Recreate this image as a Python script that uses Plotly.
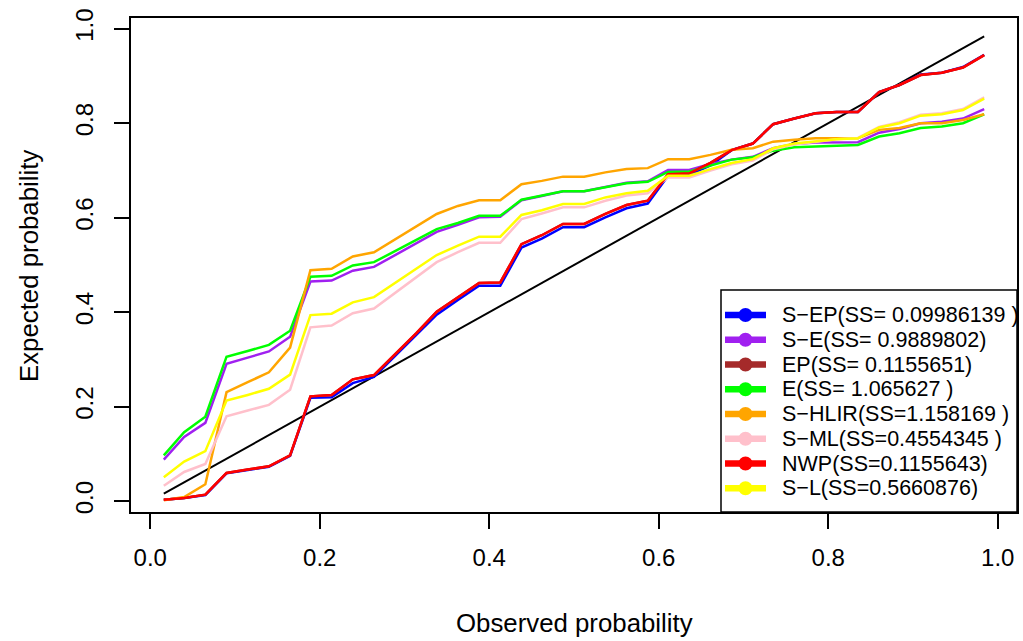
import plotly.graph_objects as go

# ---------------- data ----------------
observed = [0.016, 0.040, 0.065, 0.090, 0.115, 0.140, 0.165, 0.189, 0.214, 0.239,
            0.264, 0.289, 0.314, 0.338, 0.363, 0.388, 0.413, 0.438, 0.462, 0.487,
            0.512, 0.537, 0.562, 0.587, 0.611, 0.636, 0.661, 0.686, 0.711, 0.735,
            0.760, 0.785, 0.810, 0.835, 0.860, 0.884, 0.909, 0.934, 0.959, 0.984]

s_ep = [0.003, 0.007, 0.013, 0.059, 0.066, 0.073, 0.096, 0.219, 0.220, 0.250,
        0.263, 0.307, 0.351, 0.395, 0.426, 0.456, 0.456, 0.537, 0.556, 0.580,
        0.580, 0.601, 0.620, 0.630, 0.689, 0.691, 0.711, 0.743, 0.757, 0.798,
        0.810, 0.821, 0.824, 0.824, 0.866, 0.881, 0.903, 0.907, 0.919, 0.945]

s_e = [0.088, 0.136, 0.166, 0.291, 0.304, 0.317, 0.348, 0.465, 0.467, 0.488,
       0.496, 0.521, 0.545, 0.570, 0.585, 0.601, 0.602, 0.637, 0.646, 0.656,
       0.656, 0.665, 0.674, 0.677, 0.701, 0.701, 0.714, 0.723, 0.729, 0.747,
       0.756, 0.759, 0.760, 0.760, 0.780, 0.788, 0.800, 0.803, 0.810, 0.830]

ep = [0.003, 0.007, 0.014, 0.060, 0.067, 0.074, 0.097, 0.222, 0.225, 0.258,
      0.267, 0.311, 0.356, 0.401, 0.432, 0.462, 0.463, 0.544, 0.563, 0.587,
      0.587, 0.608, 0.627, 0.636, 0.692, 0.694, 0.716, 0.743, 0.757, 0.798,
      0.810, 0.821, 0.824, 0.824, 0.866, 0.881, 0.902, 0.907, 0.918, 0.944]

e = [0.097, 0.146, 0.179, 0.306, 0.318, 0.331, 0.361, 0.475, 0.477, 0.499,
     0.506, 0.529, 0.553, 0.576, 0.589, 0.604, 0.604, 0.638, 0.647, 0.656,
     0.656, 0.664, 0.673, 0.676, 0.697, 0.698, 0.711, 0.723, 0.728, 0.742,
     0.749, 0.751, 0.753, 0.754, 0.772, 0.779, 0.790, 0.793, 0.800, 0.819]

s_hlir = [0.002, 0.009, 0.036, 0.231, 0.252, 0.273, 0.325, 0.489, 0.492, 0.518,
          0.527, 0.554, 0.581, 0.608, 0.625, 0.637, 0.637, 0.671, 0.678, 0.687,
          0.687, 0.696, 0.703, 0.705, 0.724, 0.724, 0.733, 0.744, 0.747, 0.761,
          0.765, 0.768, 0.768, 0.768, 0.786, 0.790, 0.800, 0.800, 0.807, 0.819]

s_ml = [0.033, 0.062, 0.079, 0.180, 0.192, 0.204, 0.236, 0.368, 0.372, 0.398,
        0.408, 0.441, 0.473, 0.506, 0.527, 0.547, 0.547, 0.597, 0.609, 0.622,
        0.622, 0.636, 0.647, 0.652, 0.685, 0.685, 0.700, 0.713, 0.721, 0.745,
        0.755, 0.760, 0.766, 0.769, 0.792, 0.802, 0.818, 0.821, 0.830, 0.855]

nwp = [0.003, 0.007, 0.014, 0.060, 0.067, 0.074, 0.097, 0.222, 0.225, 0.258,
       0.267, 0.311, 0.356, 0.401, 0.432, 0.462, 0.463, 0.544, 0.563, 0.587,
       0.587, 0.608, 0.627, 0.636, 0.692, 0.694, 0.716, 0.743, 0.757, 0.798,
       0.810, 0.821, 0.824, 0.824, 0.866, 0.881, 0.902, 0.907, 0.918, 0.944]

s_l = [0.051, 0.084, 0.106, 0.213, 0.225, 0.238, 0.268, 0.394, 0.397, 0.421,
       0.432, 0.462, 0.492, 0.521, 0.541, 0.560, 0.560, 0.606, 0.616, 0.629,
       0.629, 0.643, 0.652, 0.657, 0.689, 0.689, 0.703, 0.716, 0.724, 0.747,
       0.757, 0.762, 0.766, 0.768, 0.791, 0.800, 0.816, 0.819, 0.828, 0.852]

series_names = ["S−EP(SS= 0.09986139 )", "S−E(SS= 0.9889802)", "EP(SS= 0.1155651)",
                "E(SS= 1.065627 )", "S−HLIR(SS=1.158169 )", "S−ML(SS=0.4554345 )",
                "NWP(SS=0.1155643)", "S−L(SS=0.5660876)"]
series_values = [s_ep, s_e, ep, e, s_hlir, s_ml, nwp, s_l]
series_colors = ["#0000FF", "#A020F0", "#A52A2A", "#00FF00", "#FFA500", "#FFC0CB", "#FF0000", "#FFFF00"]

tick_vals = [0.0, 0.2, 0.4, 0.6, 0.8, 1.0]
tick_text = ["0.0", "0.2", "0.4", "0.6", "0.8", "1.0"]

# ---------------- figure ----------------
FONT = "Liberation Sans, Arial, Helvetica, sans-serif"
W, H = 1023, 641
ML, MR, MT, MB = 131, 6, 18, 129
PW, PH = W - ML - MR, H - MT - MB

def px(x):
    return (x - ML) / PW

def py(y):
    return (H - MB - y) / PH

fig = go.Figure()

# reference diagonal
fig.add_trace(go.Scatter(x=observed, y=observed, mode="lines",
                         line=dict(color="black", width=2), showlegend=False,
                         hoverinfo="skip"))

for name, vals, col in zip(series_names, series_values, series_colors):
    fig.add_trace(go.Scatter(x=observed, y=vals, mode="lines", name=name,
                             line=dict(color=col, width=2.5), showlegend=False))

lo, hi = min(observed), max(observed)
span = hi - lo
rng = [lo - 0.04 * span, hi + 0.04 * span]

axis_common = dict(
    range=rng, tickvals=tick_vals, ticktext=tick_text,
    showgrid=False, zeroline=False,
    showline=True, mirror=True, linecolor="black", linewidth=1.5,
    ticks="outside", ticklen=15, tickwidth=1.5, tickcolor="black",
    tickfont=dict(family=FONT, size=24, color="black"),
)

fig.update_layout(
    width=W, height=H,
    margin=dict(l=ML, r=MR, t=MT, b=MB, autoexpand=False),
    paper_bgcolor="white", plot_bgcolor="white",
    showlegend=False,
    xaxis=dict(**axis_common, ticklabelstandoff=8),
    yaxis=dict(**axis_common, tickangle=-90, ticklabelstandoff=12),
)

shapes = []
annotations = []

# axis titles
annotations.append(dict(text="Observed probability", x=px(574), y=py(623),
                        xref="paper", yref="paper", showarrow=False,
                        xanchor="center", yanchor="middle",
                        font=dict(family=FONT, size=25.8, color="black")))
annotations.append(dict(text="Expected probability", x=px(29), y=py(266),
                        xref="paper", yref="paper", showarrow=False, textangle=-90,
                        xanchor="center", yanchor="middle",
                        font=dict(family=FONT, size=25.8, color="black")))

# legend box (manual, R-style)
shapes.append(dict(type="rect", xref="paper", yref="paper",
                   x0=px(721), x1=px(1017), y0=py(512), y1=py(290),
                   line=dict(color="black", width=1.5), fillcolor="white", layer="above"))
row0, dy = 315, 24.76
for k, (name, col) in enumerate(zip(series_names, series_colors)):
    yc = row0 + k * dy
    shapes.append(dict(type="line", xref="paper", yref="paper",
                       x0=px(725), x1=px(766), y0=py(yc), y1=py(yc),
                       line=dict(color=col, width=6.5), layer="above"))
    r = 7
    shapes.append(dict(type="circle", xref="paper", yref="paper",
                       x0=px(745.5 - r), x1=px(745.5 + r), y0=py(yc + r), y1=py(yc - r),
                       line=dict(color=col, width=0), fillcolor=col, layer="above"))
    annotations.append(dict(text=name, x=px(780), y=py(yc), xref="paper", yref="paper",
                            showarrow=False, xanchor="left", yanchor="middle",
                            font=dict(family=FONT, size=21.5, color="black")))

fig.update_layout(shapes=shapes, annotations=annotations)

fig.write_html("out.html", config={"displayModeBar": False},
               post_script="document.body.style.margin='0px';document.body.style.overflow='hidden';")
